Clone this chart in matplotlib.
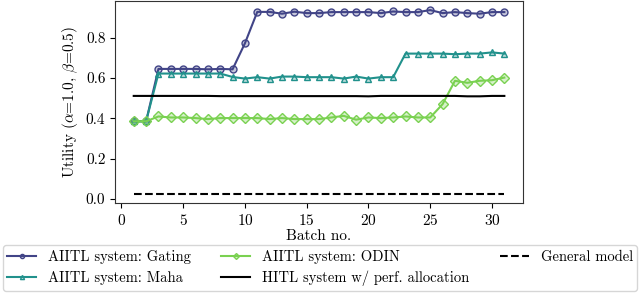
import matplotlib
matplotlib.use("Agg")
import matplotlib.pyplot as plt

plt.rcParams["font.family"] = "serif"
plt.rcParams["font.serif"] = ["cmr10"]
plt.rcParams["mathtext.fontset"] = "cm"
plt.rcParams["axes.formatter.use_mathtext"] = True

batches = list(range(1, 32))

gating = [0.385, 0.385, 0.645, 0.645, 0.645, 0.645, 0.643, 0.645, 0.643, 0.772,
          0.928, 0.928, 0.919, 0.929, 0.922, 0.922, 0.927, 0.927, 0.927, 0.927,
          0.922, 0.930, 0.927, 0.927, 0.937, 0.922, 0.927, 0.922, 0.919, 0.927,
          0.927]
maha = [0.385, 0.385, 0.622, 0.622, 0.622, 0.622, 0.622, 0.622, 0.605, 0.597,
        0.604, 0.597, 0.607, 0.607, 0.604, 0.604, 0.604, 0.597, 0.607, 0.597,
        0.604, 0.604, 0.721, 0.721, 0.721, 0.721, 0.718, 0.721, 0.721, 0.727,
        0.721]
odin = [0.385, 0.385, 0.409, 0.404, 0.404, 0.401, 0.396, 0.401, 0.401, 0.401,
        0.401, 0.396, 0.401, 0.396, 0.396, 0.396, 0.404, 0.412, 0.393, 0.404,
        0.401, 0.404, 0.409, 0.404, 0.404, 0.470, 0.586, 0.576, 0.586, 0.589,
        0.602]
hitl = [0.511] * 7 + [0.510] * 12 + [0.509] + [0.511] * 7 + [0.509] * 2 + [0.511] * 2
general = [0.025] * 31

fig = plt.figure(figsize=(6.4, 2.99), dpi=100)
ax = fig.add_axes([0.18, 0.321, 0.637, 0.676])

ax.plot(batches, gating, color="#414487", marker="o", markersize=5,
        mfc=(0.255, 0.267, 0.529, 0.3), mec="#414487", mew=1.0, lw=1.5,
        label="AIITL system: Gating")
ax.plot(batches, maha, color="#21918c", marker="^", markersize=5,
        mfc=(0.129, 0.569, 0.549, 0.3), mec="#21918c", mew=1.0, lw=1.5,
        label="AIITL system: Maha")
ax.plot(batches, odin, color="#7ad151", marker="D", markersize=5,
        mfc=(0.478, 0.820, 0.318, 0.3), mec="#7ad151", mew=1.0, lw=1.5,
        label="AIITL system: ODIN")
ax.plot(batches, hitl, color="black", lw=1.5,
        label="HITL system w/ perf. allocation")
ax.plot(batches, general, color="black", lw=1.5, ls="--",
        label="General model")

ax.set_xticks([0, 5, 10, 15, 20, 25, 30])
ax.set_yticks([0.0, 0.2, 0.4, 0.6, 0.8])
ax.set_yticklabels(["0.0", "0.2", "0.4", "0.6", "0.8"])
ax.tick_params(labelsize=11)
ax.set_xlabel("Batch no.", fontsize=11, labelpad=1)
ax.set_ylabel(r"Utility ($\alpha$=1.0, $\beta$=0.5)", fontsize=11)
for s in ax.spines.values():
    s.set_color("#333333")

handles, labels = ax.get_legend_handles_labels()
fig.legend(handles, labels, ncol=3, loc="lower center",
           bbox_to_anchor=(0.5, 0.003), fontsize=10.5, markerscale=0.6,
           handlelength=2.0, columnspacing=2.1, frameon=True,
           edgecolor="#cccccc", fancybox=True, borderpad=0.3,
           labelspacing=0.5, handletextpad=0.8)

fig.savefig("out.png", dpi=100)
